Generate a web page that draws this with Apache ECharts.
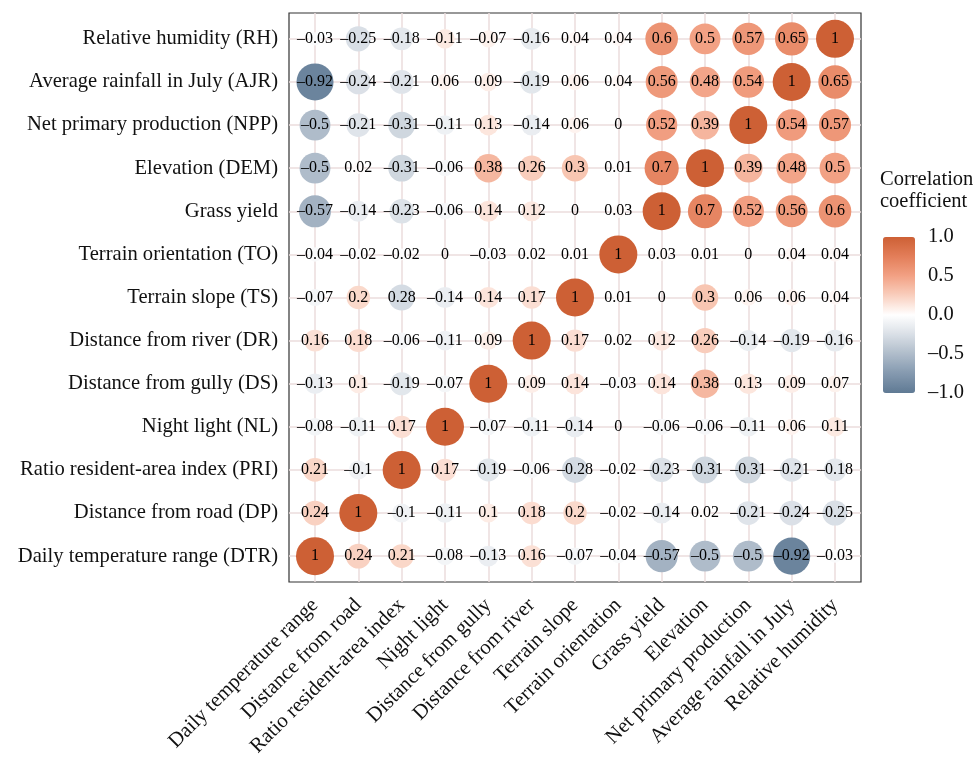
<!DOCTYPE html>
<html>
<head>
<meta charset="utf-8">
<script src="https://cdn.jsdelivr.net/npm/echarts@6/dist/echarts.min.js"></script>
<style>
  html, body { margin: 0; background: #fff; }
  #chart { width: 978px; height: 757px; }
</style>
</head>
<body>
<div id="chart"></div>
<script>
// variable order, left -> right on x, bottom -> top on y
const colNames = [
  'Daily temperature range', 'Distance from road', 'Ratio resident-area index', 'Night light',
  'Distance from gully', 'Distance from river', 'Terrain slope', 'Terrain orientation',
  'Grass yield', 'Elevation', 'Net primary production', 'Average rainfall in July', 'Relative humidity'
]
const rowNames = [
  'Daily temperature range (DTR)', 'Distance from road (DP)', 'Ratio resident-area index (PRI)',
  'Night light (NL)', 'Distance from gully (DS)', 'Distance from river (DR)', 'Terrain slope (TS)',
  'Terrain orientation (TO)', 'Grass yield', 'Elevation (DEM)', 'Net primary production (NPP)',
  'Average rainfall in July (AJR)', 'Relative humidity (RH)'
]

// printed coefficients, one row per y position (bottom row first)
const rowDTR = [1, 0.24, 0.21, -0.08, -0.13, 0.16, -0.07, -0.04, -0.57, -0.5, -0.5, -0.92, -0.03]
const rowDP  = [0.24, 1, -0.1, -0.11, 0.1, 0.18, 0.2, -0.02, -0.14, 0.02, -0.21, -0.24, -0.25]
const rowPRI = [0.21, -0.1, 1, 0.17, -0.19, -0.06, -0.28, -0.02, -0.23, -0.31, -0.31, -0.21, -0.18]
const rowNL  = [-0.08, -0.11, 0.17, 1, -0.07, -0.11, -0.14, 0, -0.06, -0.06, -0.11, 0.06, 0.11]
const rowDS  = [-0.13, 0.1, -0.19, -0.07, 1, 0.09, 0.14, -0.03, 0.14, 0.38, 0.13, 0.09, 0.07]
const rowDR  = [0.16, 0.18, -0.06, -0.11, 0.09, 1, 0.17, 0.02, 0.12, 0.26, -0.14, -0.19, -0.16]
const rowTS  = [-0.07, 0.2, 0.28, -0.14, 0.14, 0.17, 1, 0.01, 0, 0.3, 0.06, 0.06, 0.04]
const rowTO  = [-0.04, -0.02, -0.02, 0, -0.03, 0.02, 0.01, 1, 0.03, 0.01, 0, 0.04, 0.04]
const rowGY  = [-0.57, -0.14, -0.23, -0.06, 0.14, 0.12, 0, 0.03, 1, 0.7, 0.52, 0.56, 0.6]
const rowDEM = [-0.5, 0.02, -0.31, -0.06, 0.38, 0.26, 0.3, 0.01, 0.7, 1, 0.39, 0.48, 0.5]
const rowNPP = [-0.5, -0.21, -0.31, -0.11, 0.13, -0.14, 0.06, 0, 0.52, 0.39, 1, 0.54, 0.57]
const rowAJR = [-0.92, -0.24, -0.21, 0.06, 0.09, -0.19, 0.06, 0.04, 0.56, 0.48, 0.54, 1, 0.65]
const rowRH  = [-0.03, -0.25, -0.18, -0.11, -0.07, -0.16, 0.04, 0.04, 0.6, 0.5, 0.57, 0.65, 1]
const corr = [rowDTR, rowDP, rowPRI, rowNL, rowDS, rowDR, rowTS, rowTO, rowGY, rowDEM, rowNPP, rowAJR, rowRH]

const legendMin = -1
const legendMax = 1
const legendStep = 0.5

const FONT = 'Liberation Serif'
const fmt = v => String(v).replace('-', '\u2013')
const idx = colNames.map((_, i) => i)

// circles take their fill from the x >= y triangle, labels show the printed cell
const cells = []
for (let y = 0; y < corr.length; y++) {
  for (let x = 0; x < colNames.length; x++) {
    const fill = x >= y ? corr[y][x] : corr[x][y]
    cells.push([x, y, corr[y][x], fill])
  }
}

const chart = echarts.init(document.getElementById('chart'), null, { renderer: 'canvas' })

const axisCommon = {
  type: 'value', min: -0.6, max: 12.6,
  axisLine: { show: false },
  axisTick: { show: true, customValues: idx, length: 5, lineStyle: { color: '#333', width: 1.2 } },
  splitLine: { show: true, lineStyle: { color: '#EBDCDC', width: 1.5 } },
}

chart.setOption({
  backgroundColor: '#fff',
  animation: false,
  title: {
    text: 'Correlation\ncoefficient',
    left: 880, top: 169, padding: 0,
    textStyle: { fontFamily: FONT, fontSize: 20.5, fontWeight: 'normal', color: '#111', lineHeight: 22 },
  },
  grid: [
    {
      left: 289, top: 13, width: 572, height: 569, outerBoundsMode: 'none', containLabel: false,
      show: true, borderColor: '#333', borderWidth: 1.2, backgroundColor: '#fff',
    },
    { left: 883, top: 237, width: 32, height: 156, outerBoundsMode: 'none', containLabel: false },
  ],
  xAxis: [
    {
      ...axisCommon, gridIndex: 0,
      axisLabel: {
        customValues: idx, rotate: 45, margin: 20,
        formatter: v => colNames[Math.round(v)],
        fontFamily: FONT, fontSize: 20.8, color: '#111',
      },
    },
    { gridIndex: 1, type: 'value', min: 0, max: 1, show: false },
  ],
  yAxis: [
    {
      ...axisCommon, gridIndex: 0,
      axisLabel: {
        customValues: idx, margin: 11,
        formatter: v => rowNames[Math.round(v)],
        fontFamily: FONT, fontSize: 20.6, color: '#111',
      },
    },
    {
      gridIndex: 1, type: 'value', position: 'right', min: legendMin, max: legendMax, interval: legendStep,
      axisLine: { show: false }, splitLine: { show: false },
      axisTick: { show: true, inside: true, length: 6, lineStyle: { color: '#fff', width: 1.2 } },
      axisLabel: { margin: 13, formatter: v => fmt(v.toFixed(1)), fontFamily: FONT, fontSize: 20.5, color: '#111' },
    },
    {
      gridIndex: 1, type: 'value', position: 'left', min: legendMin, max: legendMax, interval: legendStep,
      axisLine: { show: false }, splitLine: { show: false }, axisLabel: { show: false },
      axisTick: { show: true, inside: true, length: 6, lineStyle: { color: '#fff', width: 1.2 } },
    },
  ],
  visualMap: {
    type: 'continuous',
    seriesIndex: 0, dimension: 3,
    min: legendMin, max: legendMax,
    calculable: false,
    left: 883, top: 237, itemWidth: 32, itemHeight: 156, padding: 0,
    inRange: { color: ['#5F7A94', '#8499AF', '#AFBCCA', '#D9DFE6', '#FFFFFF', '#F9CFBE', '#F2A184', '#E37E59', '#CD6035'] },
  },
  series: [{
    type: 'scatter',
    xAxisIndex: 0, yAxisIndex: 0,
    data: cells,
    symbol: 'circle',
    symbolSize: v => 38 * Math.pow(Math.abs(v[3]), 0.3),
    itemStyle: { opacity: 1 },
    label: {
      show: true, position: 'inside',
      formatter: p => fmt(p.value[2]),
      fontFamily: FONT, fontSize: 16, color: '#000',
    },
    emphasis: { disabled: true },
    z: 3,
  }],
})
</script>
</body>
</html>
